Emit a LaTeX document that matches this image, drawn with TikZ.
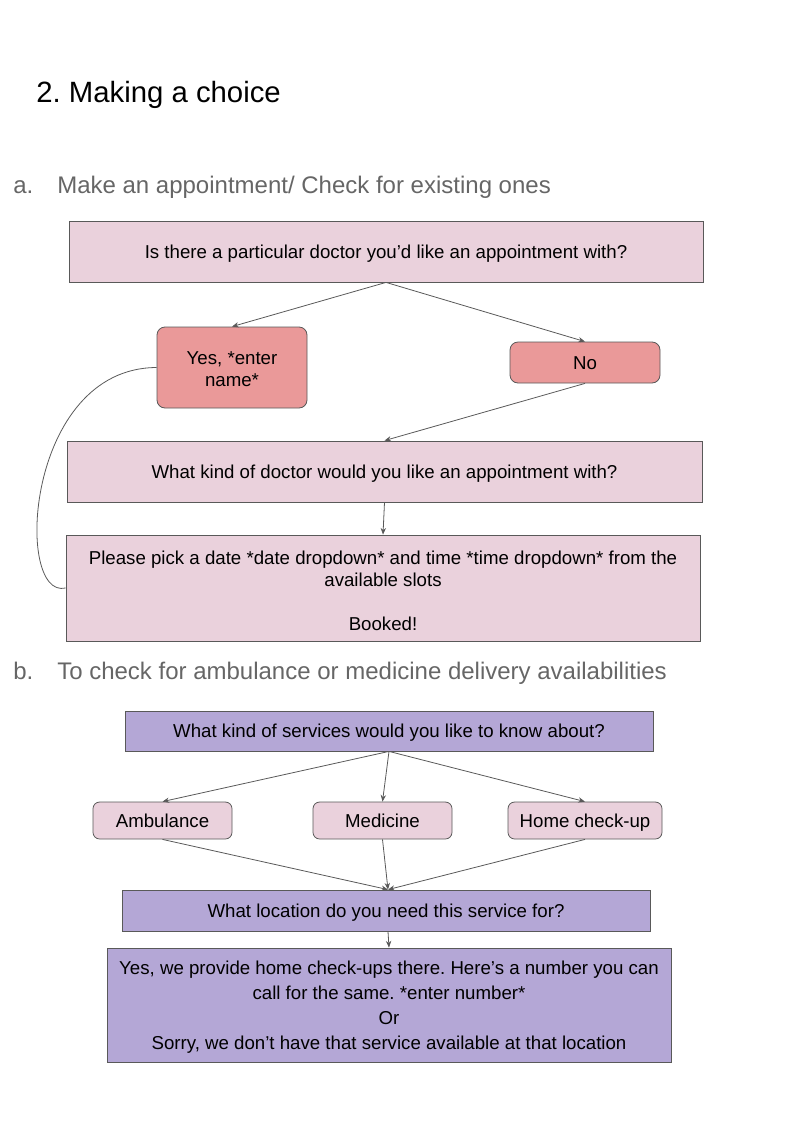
\documentclass[tikz,border=0pt]{standalone}
\usepackage{fontspec}
\setmainfont{Liberation Sans}
\usetikzlibrary{arrows.meta}
\definecolor{pinkbox}{HTML}{EAD1DC}
\definecolor{redbox}{HTML}{EA9999}
\definecolor{purplebox}{HTML}{B4A7D6}
\definecolor{edge}{HTML}{595959}
\definecolor{headgrey}{HTML}{666666}
\frenchspacing
\begin{document}
\frenchspacing
\begin{tikzpicture}[x=0.75pt,y=-0.75pt,
  box/.style={draw=edge,line width=0.6pt,align=center,inner sep=0pt,font=\fontsize{14}{16.5}\selectfont},
  one/.style={text height=12pt,text depth=2pt},
  inside/.style={align=center,inner sep=0pt,font=\fontsize{14}{16.5}\selectfont},
  pinkrect/.style={box,fill=pinkbox},
  redround/.style={box,fill=redbox,rounded corners=6pt},
  pinkround/.style={box,fill=pinkbox,rounded corners=5pt},
  purplerect/.style={box,fill=purplebox},
  conn/.style={draw=edge,line width=0.6pt,-{Stealth[length=5pt,width=4pt]}},
  heading/.style={anchor=base west,inner sep=0pt,text=headgrey,font=\fontsize{18}{22}\selectfont},
]
\useasboundingbox (0,0) rectangle (792,1128);

\node[anchor=base west,inner sep=0pt,font=\fontsize{22}{26}\selectfont] (title) at (36,102) {2. Making a choice};

\node[heading] (ha) at (13,193) {a.};
\node[heading] (hat) at (57,193) {Make an appointment/ Check for existing ones};

\node[pinkrect,one,minimum width=634*0.75pt,minimum height=61*0.75pt] (q1) at (386,251.5) {Is there a particular doctor you’d like an appointment with?};
\node[redround,minimum width=150*0.75pt,minimum height=81*0.75pt,
  label={[inside,yshift=-1.2pt]center:{Yes, *enter\\name*}}] (yes) at (232,367.5) {};
\node[redround,one,minimum width=150*0.75pt,minimum height=41*0.75pt] (no) at (585,362.5) {No};
\node[pinkrect,one,minimum width=635*0.75pt,minimum height=61*0.75pt] (q2) at (384.5,471.5) {What kind of doctor would you like an appointment with?};
\node[pinkrect,minimum width=634*0.75pt,minimum height=106*0.75pt,
  label={[inside,yshift=-2.2pt]center:{Please pick a date *date dropdown* and time *time dropdown* from the\\available slots\\[16.5pt]Booked!}}] (q3) at (383,588) {};

\draw[conn] (q1.south) -- (yes.north);
\draw[conn] (q1.south) -- (no.north);
\draw[conn] (no.south) -- (q2.north);
\draw[conn] (q2.south) -- (q3.north);
\draw[draw=edge,line width=0.6pt] (yes.west) .. controls (25,368) and (14,600) .. (q3.west);

\node[heading] (hb) at (13,679) {b.};
\node[heading] (hbt) at (57,679) {To check for ambulance or medicine delivery availabilities};

\node[purplerect,one,minimum width=528*0.75pt,minimum height=40*0.75pt] (s1) at (389,731) {What kind of services would you like to know about?};
\node[pinkround,one,minimum width=139*0.75pt,minimum height=37*0.75pt] (amb) at (162.5,820.5) {Ambulance};
\node[pinkround,one,minimum width=139*0.75pt,minimum height=37*0.75pt] (med) at (382.5,820.5) {Medicine};
\node[pinkround,one,minimum width=154*0.75pt,minimum height=37*0.75pt] (home) at (585,820.5) {Home check-up};
\node[purplerect,one,minimum width=528*0.75pt,minimum height=41*0.75pt] (s2) at (386,910.5) {What location do you need this service for?};
\node[purplerect,text depth=0pt,minimum width=564*0.75pt,minimum height=114*0.75pt,font=\fontsize{14}{18.75}\selectfont] (s3) at (389,1005) {Yes, we provide home check-ups there. Here’s a number you can\\call for the same. *enter number*\\Or\\Sorry, we don’t have that service available at that location};

\draw[conn] (s1.south) -- (amb.north);
\draw[conn] (s1.south) -- (med.north);
\draw[conn] (s1.south) -- (home.north);
\draw[conn] (amb.south) -- ([xshift=1.5pt]s2.north);
\draw[conn] (med.south) -- ([xshift=1.5pt]s2.north);
\draw[conn] (home.south) -- ([xshift=1.5pt]s2.north);
\draw[conn] ([xshift=1.5pt]s2.south) -- (s3.north);
\end{tikzpicture}
\end{document}
